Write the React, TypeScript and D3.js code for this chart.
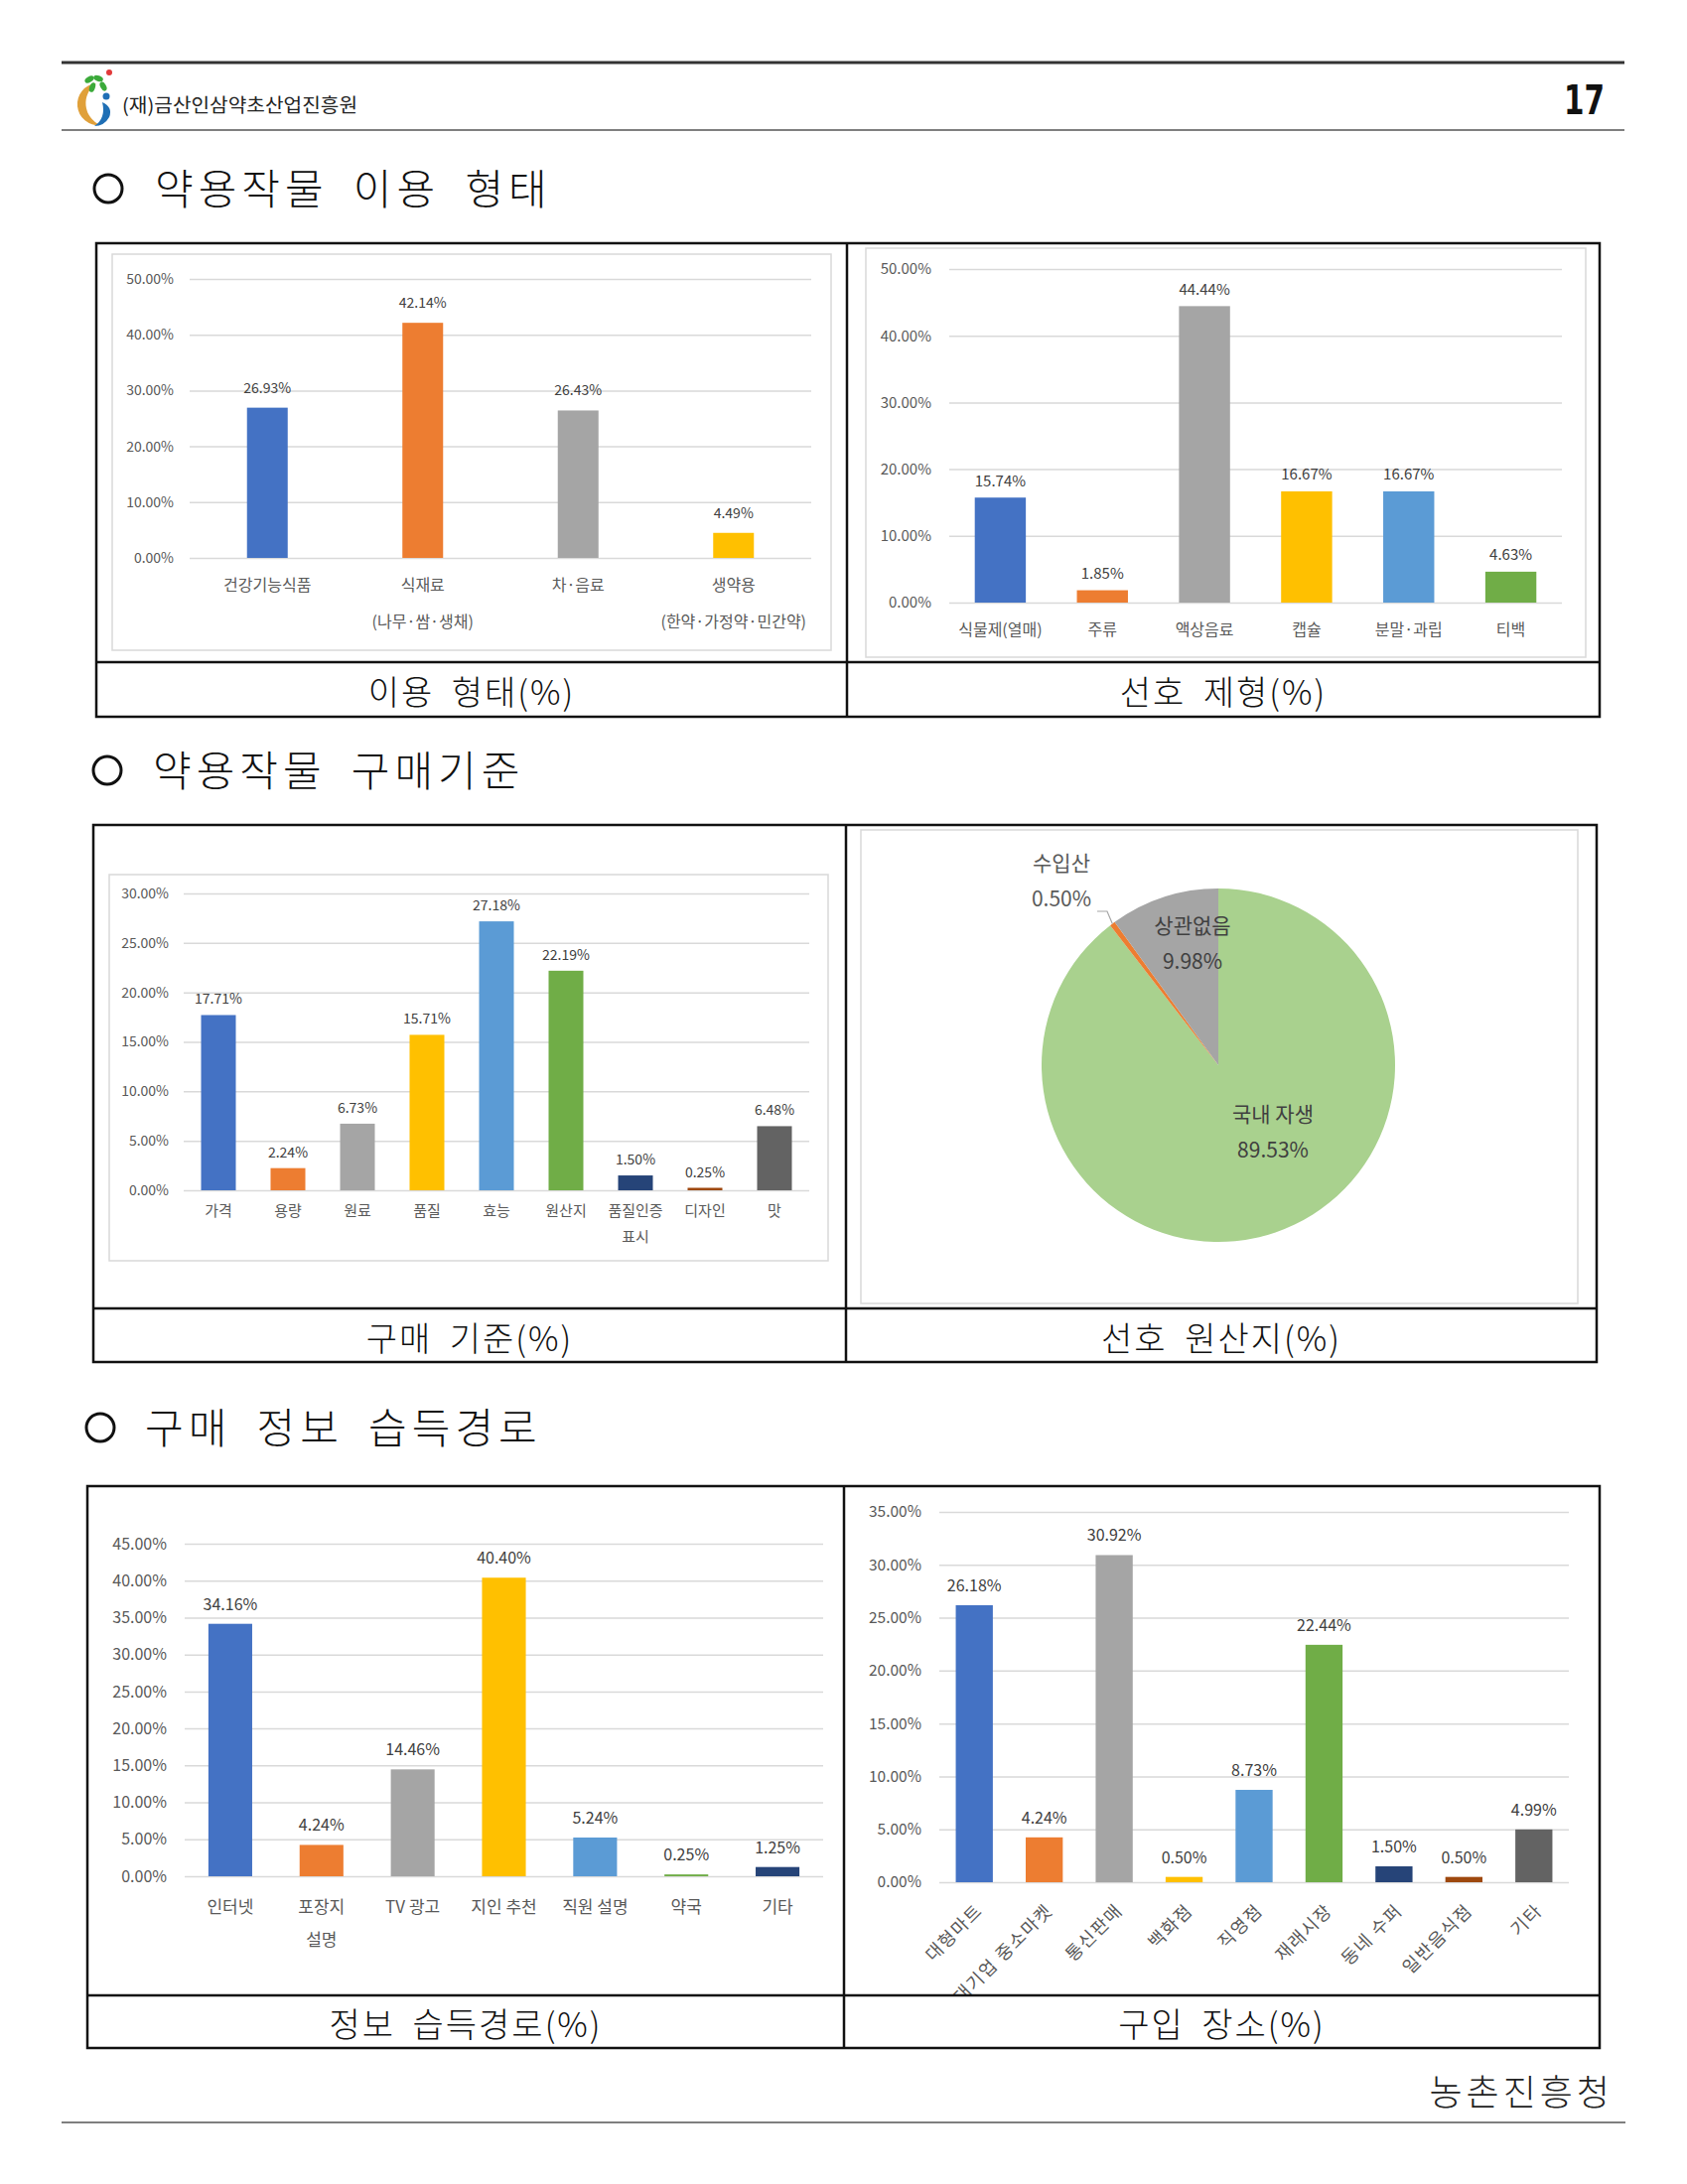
import * as d3 from "d3";
import { useEffect, useRef } from "react";

const W = 1699;
const H = 2200;
const KR = "'Noto Sans CJK KR', 'Noto Sans', sans-serif";

// 이용 형태
const useCats = ["건강기능식품", "식재료\n(나무·쌈·생채)", "차·음료", "생약용\n(한약·가정약·민간약)"];
const useVals = [26.93, 42.14, 26.43, 4.49];
const useTicks = [0, 10, 20, 30, 40, 50];

// 선호 제형
const formCats = ["식물제(열매)", "주류", "액상음료", "캡슐", "분말·과립", "티백"];
const formVals = [15.74, 1.85, 44.44, 16.67, 16.67, 4.63];
const formTicks = [0, 10, 20, 30, 40, 50];

// 구매 기준
const critCats = ["가격", "용량", "원료", "품질", "효능", "원산지", "품질인증\n표시", "디자인", "맛"];
const critVals = [17.71, 2.24, 6.73, 15.71, 27.18, 22.19, 1.5, 0.25, 6.48];
const critTicks = [0, 5, 10, 15, 20, 25, 30];

// 선호 원산지
const originCats = ["국내 자생", "수입산", "상관없음"];
const originVals = [89.53, 0.5, 9.98];
const originColors = ["#A9D18E", "#ED7D31", "#A5A5A5"];

// 정보 습득경로
const infoCats = ["인터넷", "포장지\n설명", "TV 광고", "지인 추천", "직원 설명", "약국", "기타"];
const infoVals = [34.16, 4.24, 14.46, 40.4, 5.24, 0.25, 1.25];
const infoTicks = [0, 5, 10, 15, 20, 25, 30, 35, 40, 45];

// 구입 장소
const placeCats = ["대형마트", "대기업 중소마켓", "통신판매", "백화점", "직영점", "재래시장", "동네 수퍼", "일반음식점", "기타"];
const placeVals = [26.18, 4.24, 30.92, 0.5, 8.73, 22.44, 1.5, 0.5, 4.99];
const placeTicks = [0, 5, 10, 15, 20, 25, 30, 35];

const palette = ["#4472C4", "#ED7D31", "#A5A5A5", "#FFC000", "#5B9BD5", "#70AD47", "#264478", "#9E480E", "#636363"];

const pct = (v: number) => d3.format(".2f")(v) + "%";

interface BarCfg {
  cats: string[];
  vals: number[];
  ticks: number[];
  x0: number; x1: number; yTop: number; yBot: number;
  pad: number; tickX: number;
  tickSize: number; valSize: number; catSize: number;
  catY: number; catGap: number; valGap: number;
  rotate?: boolean;
  clip?: string;
}

function drawBars(svg: any, c: BarCfg) {
  const g = svg.append("g").attr("font-family", KR);
  if (c.clip) g.attr("clip-path", `url(#${c.clip})`);

  const x = d3.scaleBand<number>()
    .domain(d3.range(c.vals.length))
    .range([c.x0, c.x1])
    .paddingInner(c.pad)
    .paddingOuter(c.pad / 2);
  const y = d3.scaleLinear()
    .domain([0, c.ticks[c.ticks.length - 1]])
    .range([c.yBot, c.yTop]);

  // axis + gridlines
  const ax = g.append("g")
    .attr("transform", `translate(${c.x0},0)`)
    .call(d3.axisLeft(y)
      .tickValues(c.ticks)
      .tickSize(-(c.x1 - c.x0))
      .tickPadding(c.x0 - c.tickX)
      .tickFormat((d: any) => pct(d)));
  ax.select(".domain").remove();
  ax.selectAll(".tick line").attr("stroke", "#D9D9D9").attr("stroke-width", 1.5);
  ax.selectAll(".tick text")
    .attr("fill", "#595959")
    .attr("font-size", c.tickSize)
    .attr("font-family", KR);

  g.selectAll("rect.bar")
    .data(c.vals)
    .join("rect")
    .attr("class", "bar")
    .attr("x", (_: number, i: number) => x(i)!)
    .attr("y", (d: number) => y(d))
    .attr("width", x.bandwidth())
    .attr("height", (d: number) => c.yBot - y(d))
    .attr("fill", (_: number, i: number) => palette[i % palette.length]);

  g.selectAll("text.val")
    .data(c.vals)
    .join("text")
    .attr("class", "val")
    .attr("x", (_: number, i: number) => x(i)! + x.bandwidth() / 2)
    .attr("y", (d: number) => y(d) - c.valGap)
    .attr("text-anchor", "middle")
    .attr("dominant-baseline", "central")
    .attr("font-size", c.valSize)
    .attr("fill", "#404040")
    .text((d: number) => pct(d));

  const cx = (i: number) => x(i)! + x.bandwidth() / 2;
  if (c.rotate) {
    g.selectAll("text.cat")
      .data(c.cats)
      .join("text")
      .attr("class", "cat")
      .attr("transform", (_: string, i: number) => `translate(${cx(i) + 4},${c.yBot + c.catY}) rotate(-45)`)
      .attr("text-anchor", "end")
      .attr("dominant-baseline", "central")
      .attr("font-size", c.catSize)
      .attr("letter-spacing", 1.5)
      .attr("fill", "#595959")
      .text((d: string) => d);
  } else {
    c.cats.forEach((label, i) => {
      const t = g.append("text")
        .attr("text-anchor", "middle")
        .attr("font-size", c.catSize)
        .attr("fill", "#595959");
      label.split("\n").forEach((line, k) => {
        t.append("tspan")
          .attr("x", cx(i))
          .attr("y", c.catY + k * c.catGap)
          .attr("dominant-baseline", "central")
          .text(line);
      });
    });
  }
}

function frame(svg: any, x0: number, y0: number, x1: number, y1: number) {
  svg.append("rect")
    .attr("x", x0).attr("y", y0)
    .attr("width", x1 - x0).attr("height", y1 - y0)
    .attr("fill", "none").attr("stroke", "#D9D9D9").attr("stroke-width", 1.5);
}

function box(svg: any, x0: number, y0: number, x1: number, y1: number, cap: number, div: number, labels: string[]) {
  const g = svg.append("g").attr("fill", "none").attr("stroke", "#111").attr("stroke-width", 2.5);
  g.append("rect").attr("x", x0).attr("y", y0).attr("width", x1 - x0).attr("height", y1 - y0);
  g.append("line").attr("x1", x0).attr("x2", x1).attr("y1", cap).attr("y2", cap);
  g.append("line").attr("x1", div).attr("x2", div).attr("y1", y0).attr("y2", y1);
  const centers = [(x0 + div) / 2, (div + x1) / 2];
  labels.forEach((l, i) => {
    svg.append("text")
      .attr("x", centers[i])
      .attr("y", (cap + y1) / 2 + 1)
      .attr("text-anchor", "middle")
      .attr("dominant-baseline", "central")
      .attr("font-family", KR)
      .attr("font-size", 34)
      .attr("font-weight", 300)
      .attr("letter-spacing", 2)
      .attr("word-spacing", 8)
      .attr("fill", "#111")
      .text(l);
  });
}

function sectionTitle(svg: any, cx: number, cy: number, tx: number, text: string) {
  svg.append("circle")
    .attr("cx", cx).attr("cy", cy + 3).attr("r", 14)
    .attr("fill", "none").attr("stroke", "#111").attr("stroke-width", 3);
  svg.append("text")
    .attr("x", tx).attr("y", cy)
    .attr("dominant-baseline", "central")
    .attr("font-family", KR)
    .attr("font-size", 42)
    .attr("font-weight", 300)
    .attr("letter-spacing", 5)
    .attr("word-spacing", 11)
    .attr("fill", "#111")
    .text(text);
}

const App = () => {
  const svgRef = useRef<SVGSVGElement | null>(null);

  useEffect(() => {
    document.body.style.margin = "0";
    if (!svgRef.current) return;
    const svg = d3.select(svgRef.current);
    svg.selectAll("*").remove();

    svg.append("rect").attr("width", W).attr("height", H).attr("fill", "#fff");

    // header
    svg.append("line").attr("x1", 62).attr("x2", 1636).attr("y1", 63).attr("y2", 63)
      .attr("stroke", "#333").attr("stroke-width", 3);
    svg.append("line").attr("x1", 62).attr("x2", 1636).attr("y1", 131).attr("y2", 131)
      .attr("stroke", "#555").attr("stroke-width", 1.5);

    const logo = svg.append("g");
    logo.append("path")
      .attr("d", "M 97 84 A 21 21 0 1 0 101 126 A 24 24 0 0 1 97 84 Z")
      .attr("fill", "#E0A03A");
    logo.append("path")
      .attr("d", "M 103 103 Q 114 108 110 118 Q 105 127 95 127 Q 107 119 103 103 Z")
      .attr("fill", "#1F6FB5");
    logo.append("circle").attr("cx", 107).attr("cy", 97).attr("r", 3.5).attr("fill", "#1F6FB5");
    [[90, 80, -30], [99, 79, 20], [104, 87, 60], [93, 88, -70]].forEach(([lx, ly, a]) => {
      logo.append("ellipse")
        .attr("cx", lx).attr("cy", ly).attr("rx", 5).attr("ry", 2.8)
        .attr("transform", `rotate(${a},${lx},${ly})`)
        .attr("fill", "#3BAA3A");
    });
    logo.append("circle").attr("cx", 110).attr("cy", 73).attr("r", 3).attr("fill", "#E23A3A");

    svg.append("text")
      .attr("x", 123).attr("y", 104)
      .attr("dominant-baseline", "central")
      .attr("font-family", KR).attr("font-size", 19).attr("fill", "#222")
      .attr("textLength", 237).attr("lengthAdjust", "spacingAndGlyphs")
      .text("(재)금산인삼약초산업진흥원");

    svg.append("text")
      .attr("x", 1616).attr("y", 115)
      .attr("text-anchor", "end")
      .attr("font-family", "'DejaVu Sans', sans-serif").attr("font-weight", "bold")
      .attr("font-size", 40).attr("fill", "#111")
      .attr("textLength", 41).attr("lengthAdjust", "spacingAndGlyphs")
      .text("17");

    // section titles
    sectionTitle(svg, 109, 187, 156, "약용작물 이용 형태");
    sectionTitle(svg, 108, 773, 154, "약용작물 구매기준");
    sectionTitle(svg, 101, 1435, 146, "구매 정보 습득경로");

    // clip for rotated labels
    svg.append("defs").append("clipPath").attr("id", "clipPlace")
      .append("rect").attr("x", 851).attr("y", 1498).attr("width", 759).attr("height", 511);

    // block 1
    frame(svg, 113, 256, 837, 655);
    drawBars(svg, {
      cats: useCats, vals: useVals, ticks: useTicks,
      x0: 191, x1: 817, yTop: 281, yBot: 562, pad: 0.738, tickX: 175,
      tickSize: 14, valSize: 14, catSize: 16, catY: 588, catGap: 37, valGap: 21,
    });
    frame(svg, 872, 250, 1597, 662);
    drawBars(svg, {
      cats: formCats, vals: formVals, ticks: formTicks,
      x0: 956, x1: 1573, yTop: 271, yBot: 607, pad: 0.5, tickX: 938,
      tickSize: 15, valSize: 15, catSize: 16, catY: 633, catGap: 30, valGap: 18,
    });
    box(svg, 97, 245, 1611, 722, 667, 853, ["이용 형태(%)", "선호 제형(%)"]);

    // block 2
    frame(svg, 110, 881, 834, 1270);
    drawBars(svg, {
      cats: critCats, vals: critVals, ticks: critTicks,
      x0: 185, x1: 815, yTop: 900, yBot: 1199, pad: 0.5, tickX: 170,
      tickSize: 14, valSize: 14, catSize: 15, catY: 1218, catGap: 26, valGap: 17,
    });

    frame(svg, 867, 836, 1589, 1313);
    const pcx = 1227, pcy = 1073, pr = 178;
    const pieG = svg.append("g").attr("transform", `translate(${pcx},${pcy})`);
    const arcs = d3.pie<number>().sort(null).value(d => d)(originVals);
    const arc = d3.arc<any>().innerRadius(0).outerRadius(pr);
    pieG.selectAll("path")
      .data(arcs)
      .join("path")
      .attr("d", arc)
      .attr("fill", (_: any, i: number) => originColors[i]);

    // label placement relative to pie centre (Excel manual layout)
    const labelOffsets = [[55, 66], [-158, -187], [-26, -124]];
    const labelColors = ["#404040", "#595959", "#404040"];
    arcs.forEach((a, i) => {
      const [dx, dy] = labelOffsets[i];
      const t = pieG.append("text")
        .attr("text-anchor", "middle")
        .attr("font-family", KR)
        .attr("font-size", 21)
        .attr("fill", labelColors[i]);
      t.append("tspan").attr("x", dx).attr("y", dy - 18).attr("dominant-baseline", "central").text(originCats[i]);
      t.append("tspan").attr("x", dx).attr("y", dy + 18).attr("dominant-baseline", "central").text(pct(a.data));
    });
    // leader line for the small slice
    const edge = d3.arc<any>().innerRadius(pr).outerRadius(pr).centroid(arcs[1]);
    pieG.append("path")
      .attr("d", `M ${-122} ${-155} L ${-112} ${-155} L ${edge[0]} ${edge[1]}`)
      .attr("fill", "none").attr("stroke", "#A6A6A6").attr("stroke-width", 1.2);

    box(svg, 94, 831, 1608, 1372, 1318, 852, ["구매 기준(%)", "선호 원산지(%)"]);

    // block 3
    drawBars(svg, {
      cats: infoCats, vals: infoVals, ticks: infoTicks,
      x0: 186, x1: 829, yTop: 1555, yBot: 1890, pad: 0.52, tickX: 168,
      tickSize: 16, valSize: 16, catSize: 17, catY: 1919, catGap: 33, valGap: 21,
    });
    drawBars(svg, {
      cats: placeCats, vals: placeVals, ticks: placeTicks,
      x0: 946, x1: 1580, yTop: 1523, yBot: 1896, pad: 0.47, tickX: 928,
      tickSize: 15.5, valSize: 16, catSize: 18, catY: 24, catGap: 0, valGap: 21,
      rotate: true, clip: "clipPlace",
    });
    box(svg, 88, 1497, 1611, 2063, 2010, 850, ["정보 습득경로(%)", "구입 장소(%)"]);

    // footer
    svg.append("text")
      .attr("x", 1625).attr("y", 2105)
      .attr("text-anchor", "end")
      .attr("dominant-baseline", "central")
      .attr("font-family", KR).attr("font-size", 36).attr("font-weight", 300)
      .attr("letter-spacing", 4)
      .attr("fill", "#222")
      .text("농촌진흥청");
    svg.append("line").attr("x1", 62).attr("x2", 1637).attr("y1", 2138).attr("y2", 2138)
      .attr("stroke", "#555").attr("stroke-width", 1.5);
  }, []);

  return (
    <svg ref={svgRef} width={W} height={H} style={{ display: "block" }}></svg>
  );
};

export default App;
